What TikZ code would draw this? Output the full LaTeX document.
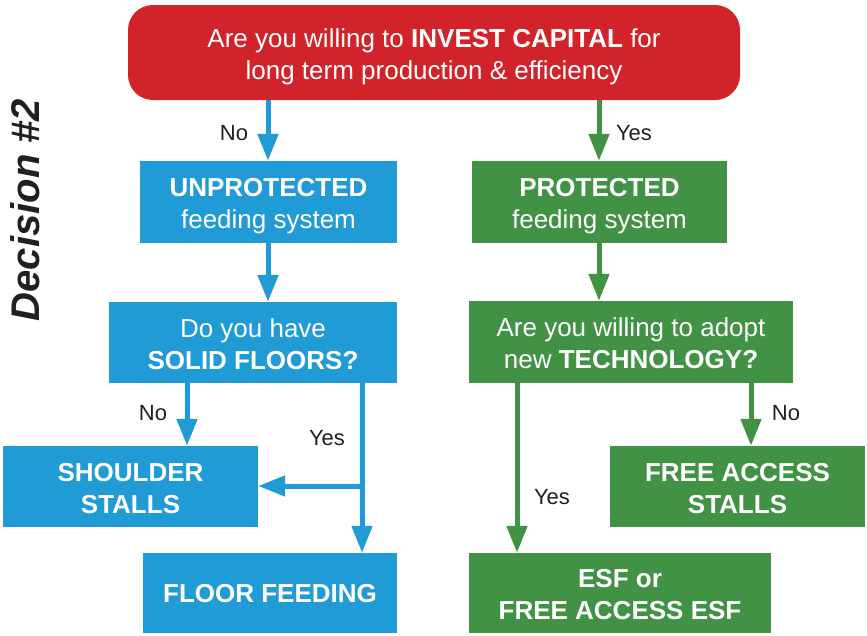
\documentclass[tikz,border=0pt]{standalone}
\usepackage{fontspec}
\setmainfont{Liberation Sans}
\usetikzlibrary{arrows.meta}
\definecolor{boxred}{RGB}{208,35,42}
\definecolor{boxblue}{RGB}{33,155,214}
\definecolor{boxgreen}{RGB}{66,146,69}
\definecolor{inkdark}{RGB}{35,31,32}
\tikzset{
  box/.style={rectangle, inner sep=0pt, text=white, align=center,
    font=\fontsize{26}{32}\selectfont, text depth=0pt},
  oneline/.style={text height=18.6pt},
  twoline/.style={text height=53.5pt},
  bluebox/.style={box, fill=boxblue},
  greenbox/.style={box, fill=boxgreen},
  flowB/.style={draw=boxblue, line width=5pt, -{Triangle[width=20pt,length=27pt]}},
  flowG/.style={draw=boxgreen, line width=5pt, -{Triangle[width=20pt,length=27pt]}},
  wire/.style={draw=boxblue, line width=5pt},
  answer/.style={text=inkdark, font=\fontsize{22}{24}\selectfont, inner sep=0pt}
}
\begin{document}
\begin{tikzpicture}[x=1pt, y=-1pt]
\useasboundingbox (0,0) rectangle (867,635);

% side title
\node[rotate=90, text=inkdark, font=\fontsize{40}{44}\bfseries\itshape] (title) at (25,210) {Decision \#2};

% question at the top
\node[box, twoline, fill=boxred, rounded corners=25pt, minimum width=612pt, minimum height=95pt]
  (capital) at (434,52.5) {Are you willing to \textbf{INVEST CAPITAL} for\\long term production \& efficiency};

% unprotected branch
\node[bluebox, twoline, minimum width=257pt, minimum height=82pt] (unprot) at (268.5,202)
  {\textbf{UNPROTECTED}\\feeding system};
\node[bluebox, twoline, minimum width=288pt, minimum height=81pt] (floors) at (253,342.5)
  {Do you have\\\textbf{SOLID FLOORS?}};
\node[bluebox, twoline, minimum width=255pt, minimum height=81pt] (shoulder) at (130.5,486.5)
  {\textbf{SHOULDER}\\\textbf{STALLS}};
\node[bluebox, oneline, minimum width=254pt, minimum height=80pt] (floorfeed) at (270,593)
  {\textbf{FLOOR FEEDING}};

% protected branch
\node[greenbox, twoline, minimum width=255pt, minimum height=82pt] (prot) at (599.5,202)
  {\textbf{PROTECTED}\\feeding system};
\node[greenbox, twoline, minimum width=324pt, minimum height=82pt] (tech) at (631,342)
  {Are you willing to adopt\\new \textbf{TECHNOLOGY?}};
\node[greenbox, twoline, minimum width=255pt, minimum height=81pt] (freestall) at (737.5,486.5)
  {\textbf{FREE ACCESS}\\\textbf{STALLS}};
\node[greenbox, twoline, minimum width=302pt, minimum height=80pt] (esf) at (620,593)
  {\textbf{ESF or}\\\textbf{FREE ACCESS ESF}};

% connectors, blue side
\draw[flowB] (capital.south -| 268,0) -- (unprot.north -| 268,0);
\draw[flowB] (unprot.south -| 268,0) -- (floors.north -| 268,0);
\draw[flowB] (floors.south -| 187,0) -- (shoulder.north -| 187,0);
\coordinate (split) at (362,486);
\draw[wire] (floors.south -| split) -- (split);
\draw[flowB] (split) -- (floorfeed.north -| split);
\draw[flowB] (split) -- (shoulder.east |- split);

% connectors, green side
\draw[flowG] (capital.south -| 599,0) -- (prot.north -| 599,0);
\draw[flowG] (prot.south -| 599,0) -- (tech.north -| 599,0);
\draw[flowG] (tech.south -| 517,0) -- (esf.north -| 517,0);
\draw[flowG] (tech.south -| 751,0) -- (freestall.north -| 751,0);

% answers
\node[answer] (no1) at (234,133) {No};
\node[answer] (yes1) at (634,133) {Yes};
\node[answer] (no2) at (153,413) {No};
\node[answer] (yes2) at (327,438) {Yes};
\node[answer] (yes3) at (552,497) {Yes};
\node[answer] (no3) at (786,413) {No};
\end{tikzpicture}
\end{document}
